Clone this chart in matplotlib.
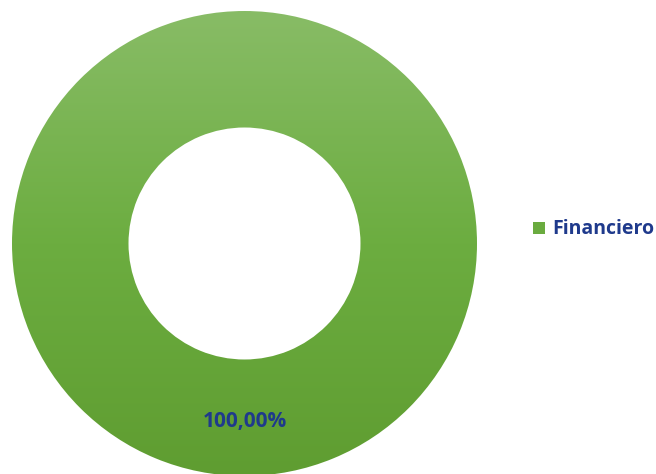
import matplotlib
matplotlib.use("Agg")
import matplotlib.pyplot as plt
import numpy as np
from matplotlib.colors import LinearSegmentedColormap

categories = ["Financiero"]
values = [100.0]
labels = ["100,00%"]

W, H = 656, 474
fig = plt.figure(figsize=(W / 100, H / 100), dpi=100)
ax = fig.add_axes([0, 0, 1, 1])

cx, cy, R, w = 244.5, 243.5, 232.5, 116.5
text_color = "#1f3a8c"

wedges, _ = ax.pie(values, radius=R, center=(cx, cy), startangle=90, counterclock=False,
                   wedgeprops=dict(width=w, linewidth=0), colors=["#6aab3f"], frame=True)

cmap = LinearSegmentedColormap.from_list("g", ["#88bc66", "#6cad40", "#5f9d31"])
grad = np.linspace(0, 1, 256).reshape(-1, 1)
for wdg in wedges:
    wdg.set_facecolor("none")
    im = ax.imshow(grad, cmap=cmap, aspect="auto",
                   extent=(cx - R, cx + R, cy + R, cy - R), zorder=1)
    im.set_clip_path(wdg)
ax.set_xlim(0, W)
ax.set_ylim(H, 0)
ax.set_aspect("equal")
ax.axis("off")

ax.text(cx, 421, labels[0], ha="center", va="center", fontsize=15,
        fontweight="bold", color=text_color, family="Open Sans")

ax.add_patch(plt.Rectangle((533, 222), 11.5, 11.5, facecolor="#6aab3f", edgecolor="none"))
ax.text(552, 228.5, categories[0], ha="left", va="center", fontsize=14,
        fontweight="bold", color=text_color, family="Open Sans")

fig.savefig("out.png", dpi=100)
